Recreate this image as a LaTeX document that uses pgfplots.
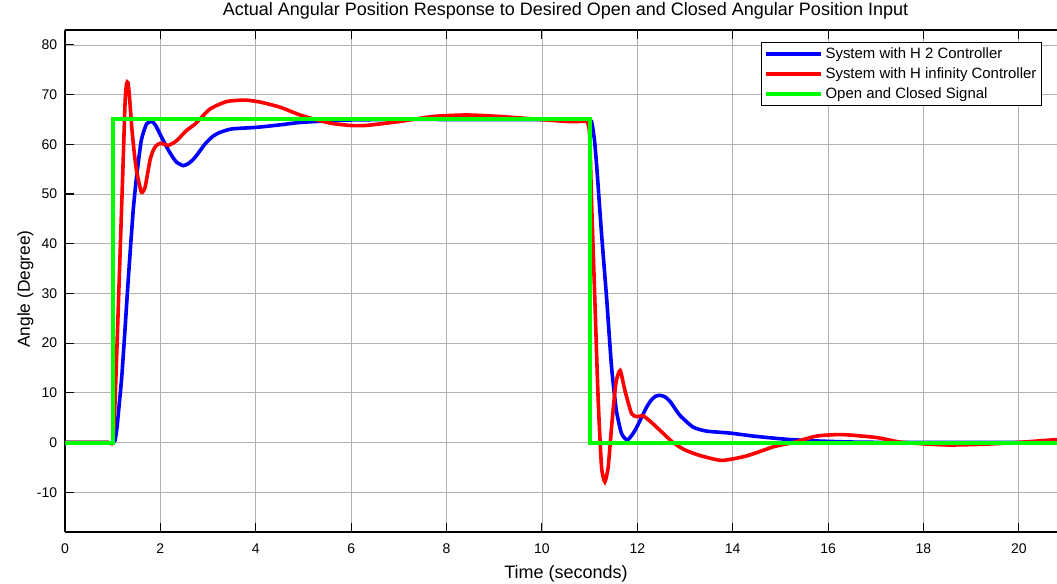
\documentclass[border=0pt]{standalone}
\usepackage{pgfplots}
\pgfplotsset{compat=1.18}
\usepackage{fontspec}
\setmainfont{Liberation Sans}

\pgfplotsset{every non boxed y axis/.style={}}

\begin{document}
\begin{tikzpicture}
\begin{axis}[
  scale only axis,
  width=744pt, height=376.5pt,
  xmin=0, xmax=20.8, ymin=-18, ymax=83,
  enlargelimits=false,
  axis x line=box, axis y line=left,
  axis line style={-, line width=0.8pt},
  tick align=inside,
  xtick pos=both,
  major tick length=7pt,
  tick style={black, line width=0.8pt},
  xtick={0,2,...,20}, ytick={-10,0,...,80},
  grid=major,
  major grid style={black!30, line width=0.6pt},
  /pgf/number format/assume math mode=true,
  tick label style={font=\fontsize{10.5}{12}\selectfont},
  xticklabel style={yshift=-5pt},
  yticklabel style={xshift=-2.3pt},
  title={Actual Angular Position Response to Desired Open and Closed Angular Position Input},
  title style={at={(axis description cs:0.5045,1.012)}, anchor=base, font=\fontsize{13.5}{15}\selectfont},
  xlabel={Time (seconds)},
  xlabel style={at={(axis description cs:0.505,-0.0936)}, anchor=base, font=\fontsize{13.5}{15}\selectfont},
  ylabel={Angle (Degree)},
  ylabel style={at={(axis description cs:-0.0353,0.484)}, anchor=base, font=\fontsize{13}{15}\selectfont},
  legend style={at={(rel axis cs:0.985,0.976)}, anchor=north east, draw=black, line width=0.6pt,
    font=\fontsize{11.2}{12}\selectfont, legend cell align=left, row sep=1.3pt,
    inner xsep=2pt},
  legend image code/.code={\draw[#1] (0pt,0pt) -- (41pt,0pt);},
  every axis plot/.append style={line width=2.7pt},
]

\addplot[blue, smooth, tension=0.35] coordinates {
(0,0) (0.5,0) (0.9,0) (1.0,0) (1.05,0.5) (1.09,3) (1.13,7) (1.19,13.2) (1.26,23) (1.33,33.3)
(1.43,46.7) (1.5,53.4) (1.6,60.8) (1.71,64.1) (1.82,64.6) (1.9,63.8) (1.99,62.1)
(2.08,60.4) (2.17,58.8) (2.26,57.4) (2.34,56.4) (2.48,55.7) (2.6,56.2) (2.73,57.4)
(2.94,60.1) (3.1,61.6) (3.25,62.4) (3.5,63.1) (4.0,63.4) (4.5,63.9) (4.93,64.4)
(5.5,64.7) (6.0,64.9) (7.0,65) (8,65) (9,65) (10,65) (10.6,65) (10.9,65) (10.97,65)
(11.04,64.6) (11.1,61) (11.15,55.4)
(11.25,42) (11.36,28.6) (11.46,15.2) (11.56,6.5) (11.67,1.8) (11.79,0.5) (11.91,1.8)
(12.0,3.3) (12.09,5.1) (12.2,7.2) (12.29,8.5) (12.38,9.3) (12.47,9.5) (12.58,9.2)
(12.7,8.1) (12.89,5.5) (13.17,3.1) (13.45,2.3) (13.94,1.9) (14.43,1.3) (14.84,0.9)
(15.2,0.6) (15.8,0.3) (16.5,0.1) (17.5,0) (18.5,0) (19.5,0) (20.8,0)
};
\addlegendentry{System with H 2 Controller}

\addplot[red, smooth, tension=0.35] coordinates {
(0,0) (0.5,0) (0.9,0) (1.0,0) (1.04,6) (1.08,16.5) (1.15,36.6) (1.22,56.7) (1.26,68.5)
(1.29,72.2) (1.32,72.4) (1.35,69.8) (1.40,63.4) (1.45,58.5) (1.5,54.7) (1.6,50.4)
(1.68,51.4) (1.78,56.7) (1.85,58.8) (1.92,59.8) (2.0,60.2) (2.08,60.0) (2.17,59.8)
(2.28,60.3) (2.38,61.1) (2.55,62.8) (2.73,64.1) (3.04,67.1) (3.39,68.6) (3.77,68.9)
(4.09,68.5) (4.5,67.5) (4.93,65.9) (5.28,64.9) (5.6,64.2) (5.97,63.8) (6.32,63.8)
(7.02,64.6) (7.72,65.6) (8.42,65.9) (9.12,65.6) (9.82,65.1) (10.52,64.6) (10.8,64.6)
(10.95,64.5) (11.0,62) (11.04,48.7) (11.11,28.6) (11.18,8.5) (11.25,-4.9) (11.32,-7.9)
(11.39,-4.9) (11.46,3.1) (11.55,11.9) (11.64,14.5) (11.74,10.5) (11.88,5.8) (12.0,5.2)
(12.12,5.4) (12.29,4.1) (12.47,2.5) (12.75,0) (13.0,-1.5) (13.31,-2.6) (13.77,-3.6)
(14.29,-2.7) (14.84,-0.9) (15.06,-0.4) (15.27,0.0) (15.76,1.3) (16.3,1.6)
(17.02,1.0) (17.5,0.1) (18.06,-0.3) (18.55,-0.5) (19.25,-0.35) (19.95,0.0) (20.8,0.6)
};
\addlegendentry{System with H infinity Controller}

\addplot[color={rgb,255:red,0;green,255;blue,0}, line width=3pt] coordinates {
(0,0) (1,0) (1,65) (11,65) (11,0) (20.8,0)
};
\addlegendentry{Open and Closed Signal}

\node[anchor=base west, font=\fontsize{10.5}{12}\selectfont] at (rel axis cs:-0.0565,-0.0956) {Offset=0};
\end{axis}
\pgfresetboundingbox
\path[use as bounding box] (-48.75pt,-39pt) rectangle (744pt,399pt);
\end{tikzpicture}
\end{document}
